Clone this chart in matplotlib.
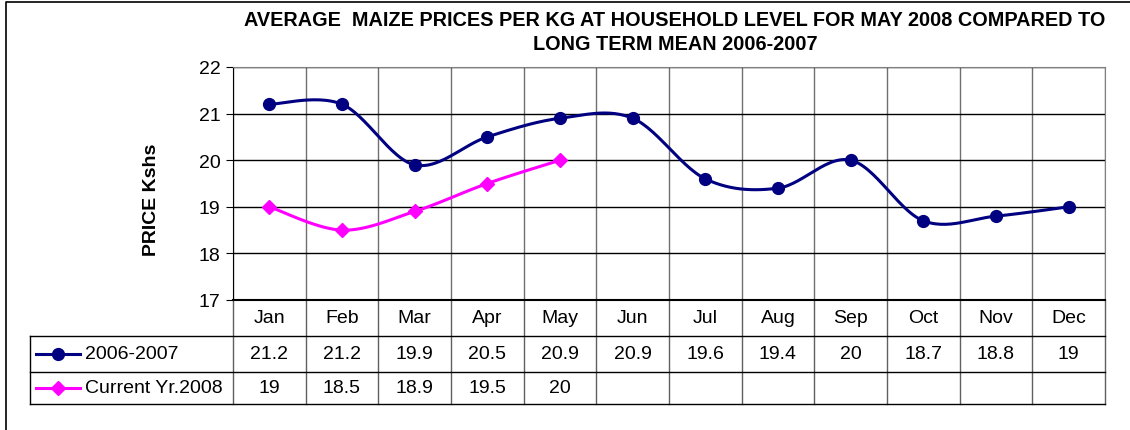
import numpy as np
import matplotlib.pyplot as plt
from matplotlib.lines import Line2D
import matplotlib.transforms as mtransforms

plt.rcParams['font.family'] = ['Liberation Sans', 'DejaVu Sans']

# Datos
months = ['Jan', 'Feb', 'Mar', 'Apr', 'May', 'Jun', 'Jul', 'Aug', 'Sep', 'Oct', 'Nov', 'Dec']
mean_0607 = [21.2, 21.2, 19.9, 20.5, 20.9, 20.9, 19.6, 19.4, 20, 18.7, 18.8, 19]
cur_2008 = [19, 18.5, 18.9, 19.5, 20]
name_mean = '2006-2007'
name_cur = 'Current Yr.2008'

W, H = 1130, 431
NAVY = '#000080'
MAGENTA = '#FF00FF'
FS = 14


def smooth(y, n=30):
    # Curva suavizada tipo Excel (Bezier cúbica, estilo Catmull-Rom)
    x = np.arange(len(y), dtype=float)
    P = np.column_stack([x, np.asarray(y, dtype=float)])
    Pe = np.vstack([P[0], P, P[-1]])
    pts = []
    t = np.linspace(0, 1, n)[:, None]
    for i in range(len(P) - 1):
        p0 = Pe[i + 1]
        p3 = Pe[i + 2]
        c1 = p0 + (Pe[i + 2] - Pe[i]) / 6
        c2 = p3 - (Pe[i + 3] - Pe[i + 1]) / 6
        seg = ((1 - t) ** 3) * p0 + 3 * ((1 - t) ** 2) * t * c1 + 3 * (1 - t) * t ** 2 * c2 + t ** 3 * p3
        pts.append(seg if i == 0 else seg[1:])
    pts = np.vstack(pts)
    return pts[:, 0], pts[:, 1]


def fx(px):
    return px / W


def fy(py):
    return 1 - py / H


fig = plt.figure(figsize=(W / 100, H / 100), dpi=100)
left, right, top, bottom = 233, 1105, 68, 301
ax = fig.add_axes([fx(left), fy(bottom), fx(right - left), (bottom - top) / H])

xs, ys = smooth(mean_0607)
ax.plot(xs, ys, color=NAVY, lw=2.2, zorder=3)
ax.plot(range(len(mean_0607)), mean_0607, 'o', color=NAVY, ms=8.5, zorder=4)
xs, ys = smooth(cur_2008)
ax.plot(xs, ys, color=MAGENTA, lw=2.2, zorder=3)
ax.plot(range(len(cur_2008)), cur_2008, 'D', color=MAGENTA, ms=7.5, zorder=4)

ax.set_xlim(-0.5, len(months) - 0.5)
ax.set_ylim(17, 22)
ax.set_yticks(range(17, 23))
ax.tick_params(axis='y', labelsize=FS, length=5, direction='out', pad=4)
ax.set_xticks(np.arange(-0.5, len(months), 1))
ax.tick_params(axis='x', length=0, labelbottom=False)
ax.grid(True, axis='y', color='black', lw=1)
ax.grid(True, axis='x', color='#707070', lw=1)
for s in ['top', 'right']:
    ax.spines[s].set_color('#808080')
ax.spines['left'].set_color('black')
ax.spines['bottom'].set_color('black')
ax.spines['bottom'].set_linewidth(1.5)
fig.text(fx(152), fy(200), 'PRICE Kshs', rotation=90, ha='center', va='center', fontsize=FS, fontweight='bold')

# Tabla de datos
rows_y = [301, 337, 373, 405]
leg_left = 30
trans = mtransforms.blended_transform_factory(ax.transData, fig.transFigure)
for py in rows_y[1:]:
    fig.add_artist(Line2D([fx(leg_left), fx(right)], [fy(py), fy(py)], color='black', lw=1))
fig.add_artist(Line2D([fx(leg_left), fx(leg_left)], [fy(rows_y[1]), fy(rows_y[3])], color='black', lw=1))
for k in range(len(months) + 1):
    ax.add_artist(Line2D([k - 0.5, k - 0.5], [fy(rows_y[0]), fy(rows_y[3])], color='#606060', lw=1,
                         transform=trans, clip_on=False))

for i, m in enumerate(months):
    ax.text(i, fy((rows_y[0] + rows_y[1]) / 2), m, transform=trans, ha='center', va='center', fontsize=FS)
for i, v in enumerate(mean_0607):
    ax.text(i, fy((rows_y[1] + rows_y[2]) / 2), f'{v:g}', transform=trans, ha='center', va='center', fontsize=FS)
for i, v in enumerate(cur_2008):
    ax.text(i, fy((rows_y[2] + rows_y[3]) / 2), f'{v:g}', transform=trans, ha='center', va='center', fontsize=FS)

# Leyenda dentro de la tabla
for (name, col, mk, ms), (a, b) in zip([(name_mean, NAVY, 'o', 8.5), (name_cur, MAGENTA, 'D', 7.5)],
                                      [(rows_y[1], rows_y[2]), (rows_y[2], rows_y[3])]):
    yc = fy((a + b) / 2)
    fig.add_artist(Line2D([fx(36), fx(80)], [yc, yc], color=col, lw=2.2))
    fig.add_artist(Line2D([fx(58)], [yc], marker=mk, color=col, ms=ms))
    fig.text(fx(85), yc, name, ha='left', va='center', fontsize=FS)

# Título
fig.text(fx(675), fy(20), 'AVERAGE  MAIZE PRICES PER KG AT HOUSEHOLD LEVEL FOR MAY 2008 COMPARED TO',
         ha='center', va='center', fontsize=14.3, fontweight='bold')
fig.text(fx(675), fy(45), 'LONG TERM MEAN 2006-2007', ha='center', va='center', fontsize=14.3, fontweight='bold')

# Marco
fig.add_artist(Line2D([fx(6), fx(6), fx(W)], [0, fy(3), fy(3)], color='black', lw=1.2))

plt.savefig('out.png', dpi=100)
